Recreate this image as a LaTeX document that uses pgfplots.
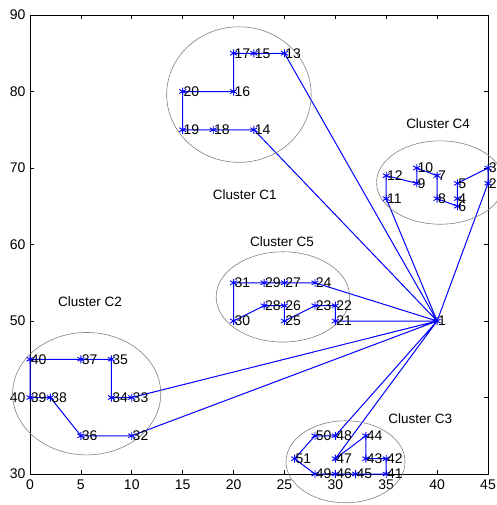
\documentclass[border=0pt]{standalone}
\usepackage{fontspec}
\setmainfont{Liberation Sans}
\usepackage{pgfplots}
\usepackage{pgfplotstable}
\pgfplotsset{compat=1.18}

\pgfplotstableread{
x y lab
40 50 1
45 68 2
45 70 3
42 66 4
42 68 5
42 65 6
40 69 7
40 66 8
38 68 9
38 70 10
35 66 11
35 69 12
25 85 13
22 75 14
22 85 15
20 80 16
20 85 17
18 75 18
15 75 19
15 80 20
30 50 21
30 52 22
28 52 23
28 55 24
25 50 25
25 52 26
25 55 27
23 52 28
23 55 29
20 50 30
20 55 31
10 35 32
10 40 33
8 40 34
8 45 35
5 35 36
5 45 37
2 40 38
0 40 39
0 45 40
35 30 41
35 32 42
33 32 43
33 35 44
32 30 45
30 30 46
30 32 47
30 35 48
28 30 49
28 35 50
26 32 51
}\pts

\begin{document}
\begin{tikzpicture}
\begin{axis}[
  scale only axis, width=458pt, height=459pt,
  xmin=0, xmax=45, ymin=30, ymax=90,
  xtick={0,5,...,45}, ytick={30,40,...,90},
  tick align=inside, xtick pos=both, ytick pos=both,
  major tick length=4pt,
  axis line style={line width=1pt},
  tick style={black, line width=0.7pt},
  font=\fontsize{13.5}{15}\selectfont,
  ticklabel style={font=\fontsize{14}{15}\selectfont},
  /pgf/number format/assume math mode=true,
  yticklabel style={xshift=-1pt},
  xticklabel style={yshift=-2pt},
  clip=false,
]
% routes
\addplot[blue, line width=1pt] coordinates {(40,50)(25,85)(22,85)(20,85)(20,80)(15,80)(15,75)(18,75)(22,75)(40,50)};
\addplot[blue, line width=1pt] coordinates {(40,50)(35,66)(35,69)(38,68)(38,70)(40,69)(40,66)(42,65)(42,66)(42,68)(45,70)(45,68)(40,50)};
\addplot[blue, line width=1pt] coordinates {(40,50)(28,55)(25,55)(23,55)(20,55)(20,50)(23,52)(25,52)(25,50)(28,52)(30,52)(30,50)(40,50)};
\addplot[blue, line width=1pt] coordinates {(40,50)(10,40)(8,40)(8,45)(5,45)(0,45)(0,40)(2,40)(5,35)(10,35)(40,50)};
\addplot[blue, line width=1pt] coordinates {(40,50)(30,35)(28,35)(26,32)(28,30)(30,30)(32,30)(35,30)(35,32)(33,32)(33,35)(30,32)(40,50)};
% points with labels
\addplot[only marks, mark=asterisk, blue, mark size=4pt, mark options={line width=0.9pt},
  nodes near coords, point meta=explicit symbolic,
  every node near coord/.append style={anchor=west, inner sep=0pt, xshift=0.5pt, text=black, font=\fontsize{14}{15}\selectfont}]
  table[x=x, y=y, meta=lab] {\pts};
% ellipses
\draw[gray, line width=0.6pt] (axis cs:20.53,79.6) ellipse [x radius=7.1, y radius=8.86];
\draw[gray, line width=0.6pt] (axis cs:40.3,68.1) ellipse [x radius=6.25, y radius=5.45];
\draw[gray, line width=0.6pt] (axis cs:24.85,53.15) ellipse [x radius=6.56, y radius=5.9];
\draw[gray, line width=0.6pt] (axis cs:5.57,40.5) ellipse [x radius=7.28, y radius=8.0];
\draw[gray, line width=0.6pt] (axis cs:31.0,31.6) ellipse [x radius=5.85, y radius=5.36];
% cluster labels
\node at (axis cs:21.1,66.5) {Cluster C1};
\node at (axis cs:40.1,75.75) {Cluster C4};
\node at (axis cs:24.75,60.4) {Cluster C5};
\node at (axis cs:5.9,52.5) {Cluster C2};
\node at (axis cs:38.35,37.2) {Cluster C3};
\coordinate (bbsw) at (rel axis cs:-0.0655,-0.0675);
\coordinate (bbne) at (rel axis cs:1.0175,1.0327);
\end{axis}
\pgfresetboundingbox
\path[use as bounding box] (bbsw) rectangle (bbne);
\end{tikzpicture}
\end{document}
